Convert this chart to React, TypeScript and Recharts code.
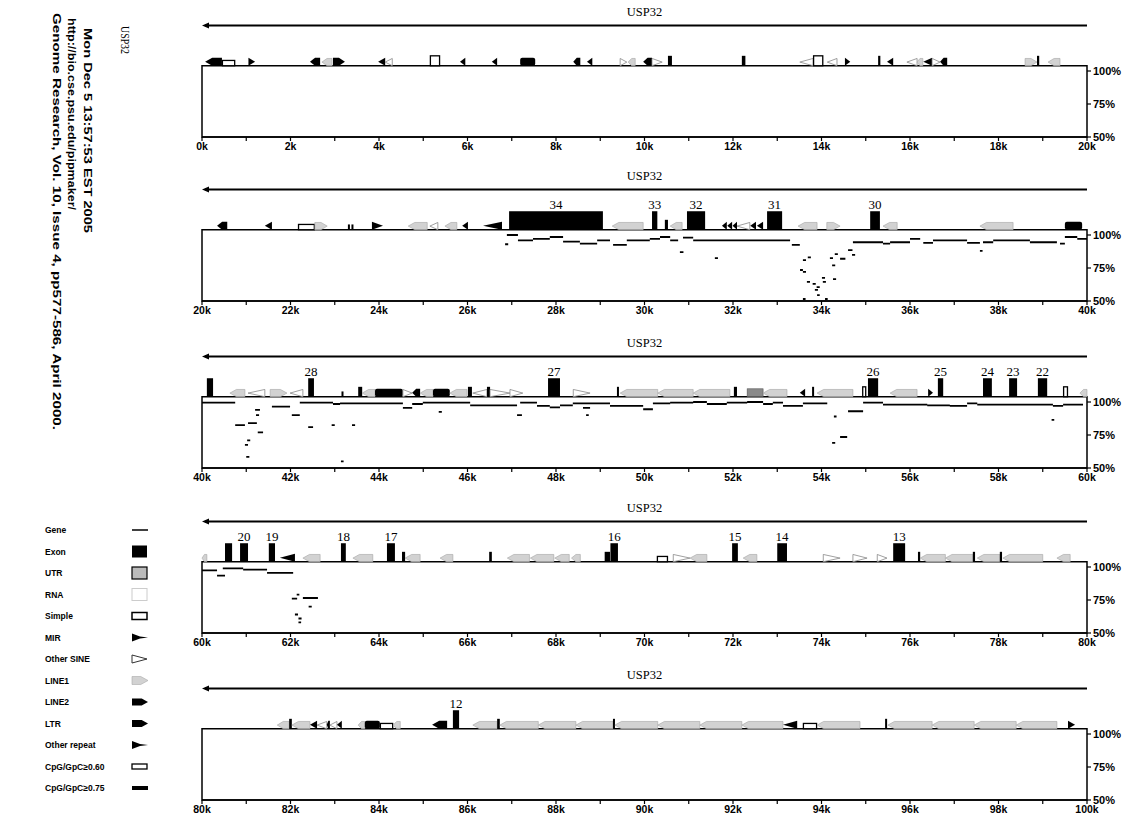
import React from 'react';
import { ComposedChart, XAxis, YAxis, Line, ReferenceArea, ReferenceLine } from 'recharts';

const geneName = 'USP32';
const panelStarts = [0, 20000, 40000, 60000, 80000];
const panelSpan = 20000;
const tickOffsetsKb = [0, 1, 2, 3, 4, 5, 6, 7, 8, 9, 10, 11, 12, 13, 14, 15, 16, 17, 18, 19, 20];
const pctTicks = [50, 75, 100];

// [start, end, kind, strand or exon number]
type Feat = [number, number, string, string];
// [start, end, percent identity]
type Seg = [number, number, number];

const featuresA: Feat[] = [
  [70, 450, 'blk', 'L'], [450, 750, 'simple', ''], [1050, 1200, 'mir', 'R'],
  [2440, 2670, 'blk', 'L'], [2710, 2940, 'line1', 'L'], [2960, 3230, 'blk', 'R'],
  [3980, 4140, 'mir', 'L'], [4140, 4300, 'sine', 'L'], [5150, 5380, 'cpg', ''],
  [5830, 5950, 'mir', 'L'], [6550, 6670, 'mir', 'L'], [7190, 7530, 'ltr', ''],
  [8390, 8550, 'blk', 'L'], [8700, 8820, 'mir', 'L'], [9450, 9600, 'sine', 'R'],
  [9630, 9790, 'line1', 'L'], [9970, 10170, 'blk', 'L'], [10170, 10400, 'sine', 'R'],
  [10530, 10620, 'bar', ''], [12200, 12280, 'bar', ''], [13510, 13810, 'sine', 'L'],
  [13810, 14040, 'cpg', ''], [14130, 14350, 'sine', 'L'], [14530, 14650, 'mir', 'R'],
  [15280, 15330, 'bar', ''], [15480, 15620, 'mir', 'L'], [15930, 16160, 'sine', 'L'],
  [16160, 16290, 'line1', 'L'], [16300, 16500, 'mir', 'L'], [16500, 16680, 'sine', 'R'],
  [16680, 16840, 'blk', 'L'], [18600, 18870, 'line1', 'R'], [18870, 18920, 'bar', ''],
  [19120, 19390, 'line1', 'L'],
];

const featuresB: Feat[] = [
  [20340, 20570, 'line2', 'L'], [21420, 21580, 'mir', 'L'], [22170, 22550, 'simple', ''],
  [22550, 22830, 'line1', 'R'], [23300, 23340, 'tick', ''], [23380, 23420, 'tick', ''],
  [23840, 24090, 'mir', 'R'], [24660, 25090, 'line1', 'L'], [25150, 25330, 'sine', 'L'],
  [25490, 25760, 'line1', 'L'], [25880, 26010, 'mir', 'L'], [26350, 26780, 'mir', 'L'],
  [26940, 29060, 'exon', '34'], [29270, 29970, 'line1', 'L'], [30170, 30290, 'exon', '33'],
  [30460, 30530, 'bar', ''], [30580, 30850, 'line1', 'L'], [30960, 31370, 'exon', '32'],
  [31750, 31860, 'mir', 'L'], [31870, 31980, 'mir', 'L'], [31990, 32090, 'mir', 'L'],
  [32090, 32380, 'sine', 'L'], [32390, 32520, 'mir', 'L'], [32540, 32680, 'mir', 'L'],
  [32770, 33110, 'exon', '31'], [33470, 33900, 'line1', 'L'], [34120, 34420, 'line1', 'R'],
  [35100, 35320, 'exon', '30'], [35390, 35710, 'line1', 'L'], [37580, 38330, 'line1', 'L'],
  [39500, 39890, 'ltr', ''],
];

const featuresC: Feat[] = [
  [40110, 40250, 'exon', ''], [40630, 40970, 'line1', 'L'], [41040, 41420, 'sine', 'L'],
  [41540, 41920, 'line1', 'R'], [41990, 42280, 'sine', 'L'], [42400, 42530, 'exon', '28'],
  [43160, 43190, 'tick', ''], [43530, 43620, 'bar', ''], [43620, 43910, 'line1', 'L'],
  [43910, 44540, 'ltr', ''], [44540, 44750, 'sine', 'R'], [44750, 44930, 'blk', 'L'],
  [44930, 45220, 'line1', 'L'], [45220, 45600, 'ltr', ''], [45600, 45990, 'line1', 'L'],
  [46010, 46100, 'bar', ''], [46120, 46440, 'sine', 'L'], [46440, 46510, 'bar', ''],
  [46510, 46960, 'sine', 'R'], [46960, 47250, 'sine', 'R'], [47820, 48090, 'exon', '27'],
  [48390, 48770, 'sine', 'R'], [49380, 49420, 'bar', ''], [49450, 50300, 'line1', 'L'],
  [50300, 51100, 'line1', 'L'], [51100, 51930, 'line1', 'L'], [52020, 52090, 'bar', ''],
  [52320, 52680, 'utr', ''], [52680, 53220, 'line1', 'L'], [53510, 53630, 'mir', 'L'],
  [53790, 53830, 'bar', ''], [53900, 54710, 'line1', 'L'], [54920, 54990, 'cpg', ''],
  [55050, 55280, 'exon', '26'], [55550, 56160, 'line1', 'L'], [56410, 56520, 'mir', 'R'],
  [56630, 56750, 'exon', '25'], [57650, 57850, 'exon', '24'], [58240, 58420, 'exon', '23'],
  [58890, 59100, 'exon', '22'], [59460, 59570, 'cpg', ''], [59840, 60000, 'line1', 'L'],
];

const featuresD: Feat[] = [
  [60000, 60110, 'line1', 'L'], [60520, 60680, 'exon', ''], [60860, 61040, 'exon', '20'],
  [61510, 61650, 'exon', '19'], [61760, 62100, 'mir', 'L'], [62280, 62670, 'line1', 'L'],
  [63140, 63250, 'exon', '18'], [63410, 63860, 'line1', 'L'], [64180, 64360, 'exon', '17'],
  [64520, 64590, 'bar', ''], [64590, 64930, 'line1', 'L'], [65380, 65670, 'line1', 'L'],
  [66490, 66550, 'bar', ''], [66900, 67400, 'line1', 'L'], [67420, 67950, 'line1', 'L'],
  [67970, 68300, 'line1', 'L'], [68350, 68550, 'line1', 'L'], [69100, 69220, 'bar', ''],
  [69230, 69400, 'exon', '16'], [70280, 70530, 'simple', ''], [70650, 71030, 'sine', 'R'],
  [71030, 71410, 'line1', 'L'], [71980, 72110, 'exon', '15'], [72230, 72540, 'line1', 'L'],
  [73000, 73220, 'exon', '14'], [74040, 74420, 'sine', 'R'], [74710, 75030, 'sine', 'R'],
  [75260, 75480, 'sine', 'R'], [75620, 75890, 'exon', '13'], [76180, 76230, 'bar', ''],
  [76230, 76800, 'line1', 'L'], [76800, 77420, 'line1', 'L'], [77420, 77470, 'bar', ''],
  [77520, 78030, 'line1', 'L'], [78030, 78080, 'bar', ''], [78100, 79000, 'line1', 'L'],
  [79320, 79620, 'line1', 'L'],
];

const featuresE: Feat[] = [
  [81700, 81970, 'line1', 'L'], [81970, 82030, 'bar', ''], [82030, 82440, 'line1', 'L'],
  [82440, 82600, 'mir', 'L'], [82600, 82820, 'sine', 'L'], [82820, 82890, 'blk', 'L'],
  [82890, 83050, 'sine', 'L'], [83050, 83160, 'mir', 'L'], [83530, 83680, 'line1', 'L'],
  [83680, 84020, 'ltr', ''], [84020, 84320, 'simple', ''], [84320, 84480, 'line1', 'L'],
  [85200, 85540, 'line2', 'L'], [85670, 85810, 'exon', '12'], [86120, 86670, 'line1', 'L'],
  [86670, 86730, 'bar', ''], [86730, 87600, 'line1', 'L'], [87600, 88450, 'line1', 'L'],
  [88450, 89290, 'line1', 'L'], [89290, 89330, 'bar', ''], [89330, 90300, 'line1', 'L'],
  [90300, 91250, 'line1', 'L'], [91250, 92200, 'line1', 'L'], [92200, 93130, 'line1', 'L'],
  [93130, 93450, 'mir', 'L'], [93580, 93900, 'simple', ''], [93900, 94870, 'line1', 'L'],
  [95440, 95480, 'bar', ''], [95500, 96500, 'line1', 'L'], [96500, 97450, 'line1', 'L'],
  [97450, 98400, 'line1', 'L'], [98400, 99320, 'line1', 'L'], [99570, 99730, 'mir', 'R'],
];

const pipA: Seg[] = [];

const pipB: Seg[] = [
  [26850, 26920, 93], [26890, 27140, 100], [27140, 27480, 96], [27480, 27860, 97],
  [27860, 28160, 98.5], [28160, 28540, 95], [28540, 28930, 93.5], [28930, 29220, 96],
  [29290, 29600, 92.5], [29600, 30120, 96], [30120, 30350, 97], [30350, 30580, 98.5],
  [30580, 30760, 96], [30800, 30880, 87], [30870, 31100, 98], [31100, 33290, 96],
  [31590, 31660, 82.5], [33330, 33510, 92.5],
  [33580, 33650, 81], [33515, 33580, 73.5], [33580, 33650, 72], [33690, 33760, 83],
  [33670, 33740, 64.5], [33800, 33870, 63], [33890, 33960, 60.5], [33850, 33920, 58.5],
  [34010, 34080, 67.5], [34030, 34100, 64.5], [34190, 34260, 82.5], [34240, 34310, 77],
  [34300, 34370, 85.5], [34420, 34540, 82], [34260, 34330, 66.5], [34600, 34700, 88.5],
  [34690, 34760, 85], [33580, 33640, 51.5], [34080, 34140, 51.5], [33900, 33960, 54.5],
  [34710, 35390, 94.5], [35390, 35550, 93.5], [35550, 36000, 94.5], [36000, 36230, 97],
  [36300, 36520, 94], [36520, 37290, 96], [37290, 37580, 94], [37580, 37640, 88],
  [37650, 37880, 94.5], [37880, 38710, 96], [38710, 39320, 94.5], [39390, 39500, 93.5],
  [39500, 39780, 98.5], [39780, 40000, 97],
];

const pipC: Seg[] = [
  [40000, 40750, 99.5], [40750, 40970, 82.5], [41040, 41240, 84], [41200, 41310, 94],
  [41220, 41290, 90], [41260, 41380, 77], [41020, 41090, 71], [40970, 41040, 67.5],
  [41000, 41070, 58.5], [41580, 41990, 96.5], [42030, 42210, 90], [42400, 42510, 81],
  [42210, 42960, 99.5], [42960, 43120, 98.5], [43120, 44540, 99], [42930, 43000, 82.5],
  [43390, 43460, 82.5], [43140, 43200, 55], [44540, 44750, 95.5], [44750, 44990, 98.5],
  [44990, 46060, 99.5], [45350, 45420, 92.5], [46060, 47120, 97.5], [47120, 47230, 90],
  [47190, 47570, 99.5], [47570, 47860, 97], [47860, 48090, 96], [48090, 48380, 97.5],
  [48610, 48770, 95.5], [48680, 48740, 90], [48380, 49220, 99], [49220, 49970, 97],
  [49970, 50190, 94.5], [50190, 50580, 99], [50580, 51100, 99.5], [51100, 51410, 100],
  [51410, 51860, 98.5], [51860, 52320, 99.5], [52320, 52680, 100], [52680, 52900, 98.5],
  [52900, 53130, 99.5], [53130, 53580, 97], [53580, 54130, 99], [54280, 54340, 89],
  [54600, 54940, 93], [54420, 54580, 73.5], [54240, 54310, 69], [54940, 55390, 99.5],
  [55390, 56390, 98], [56390, 56900, 97.5], [56900, 57290, 97], [57290, 57520, 99],
  [57520, 59230, 98], [59200, 59260, 86.5], [59230, 59460, 97], [59460, 59910, 98],
];

const pipD: Seg[] = [
  [60000, 60340, 97.5], [60340, 60520, 93.5], [60470, 60930, 99], [60930, 61470, 98],
  [61470, 62060, 95.5], [62030, 62150, 76], [62280, 62620, 76.5], [62410, 62480, 70],
  [62180, 62250, 61], [62140, 62200, 79], [62100, 62170, 64], [62180, 62240, 58],
];

const pipE: Seg[] = [];

const panelFeatures = [featuresA, featuresB, featuresC, featuresD, featuresE];
const panelPips = [pipA, pipB, pipC, pipD, pipE];

const legendLabels = [
  'Gene', 'Exon', 'UTR', 'RNA', 'Simple', 'MIR', 'Other SINE', 'LINE1', 'LINE2',
  'LTR', 'Other repeat', 'CpG/GpC\u22650.60', 'CpG/GpC\u22650.75',
];

const sideLines = [
  'Genome Research, Vol. 10, Issue 4, pp577-586, April 2000.',
  'http://bio.cse.psu.edu/pipmaker/',
  'Mon Dec  5 13:57:53 EST 2005',
];

const panelTops = [0, 164, 331, 496, 663];
const BOX_TOP = 104;
const ARROW_Y = 134.5;
const kindHeight: Record<string, number> = {
  exon: 14, bar: 7.5, tick: 4, blk: 6, mir: 6, sine: 5.5, line1: 5.5,
  line2: 6, ltr: 6, simple: 4, cpg: 7.5, utr: 6,
};
const LIGHT = '#d2d2d2';
const sans = '"Liberation Sans", Arial, sans-serif';
const serif = '"Liberation Serif", "Times New Roman", serif';

const arrowPoly = (x: number, y: number, w: number, h: number, dir: string) => {
  const tip = Math.min(w * 0.5, h * 0.9);
  if (dir === 'R') {
    return `${x},${y} ${x + w - tip},${y} ${x + w},${y + h / 2} ${x + w - tip},${y + h} ${x},${y + h}`;
  }
  return `${x + tip},${y} ${x + w},${y} ${x + w},${y + h} ${x + tip},${y + h} ${x},${y + h / 2}`;
};

const triPoly = (x: number, y: number, w: number, h: number, dir: string) =>
  dir === 'R'
    ? `${x},${y} ${x + w},${y + h / 2} ${x},${y + h}`
    : `${x + w},${y} ${x},${y + h / 2} ${x + w},${y + h}`;

const glyph = (kind: string, dir: string) => (p: any) => {
  let { x, y, width: w, height: h } = p;
  if (w < 2) { x -= (2 - w) / 2; w = 2; }
  switch (kind) {
    case 'exon':
    case 'bar':
    case 'tick':
      return <rect x={x} y={y} width={w} height={h} fill="#000" />;
    case 'utr':
      return <rect x={x} y={y} width={w} height={h} fill="#8a8a8a" stroke="#555" strokeWidth={0.6} />;
    case 'simple':
      return <rect x={x + 0.5} y={y} width={w - 1} height={h} fill="#fff" stroke="#000" strokeWidth={1.3} />;
    case 'cpg':
      return <rect x={x + 0.5} y={y} width={Math.max(w - 1, 3)} height={h} fill="#fff" stroke="#000" strokeWidth={1.3} />;
    case 'mir':
      return <polygon points={triPoly(x, y, w, h, dir)} fill="#000" />;
    case 'sine':
      return <polygon points={triPoly(x, y, w, h, dir)} fill="#fff" stroke="#888" strokeWidth={0.8} />;
    case 'line1':
      return <polygon points={arrowPoly(x, y, w, h, dir)} fill={LIGHT} stroke="#a5a5a5" strokeWidth={0.6} />;
    case 'line2':
    case 'blk':
      return <polygon points={arrowPoly(x, y, w, h, dir)} fill="#000" />;
    case 'ltr':
      return <rect x={x} y={y} width={w} height={h} rx={2} fill="#000" />;
    default:
      return <rect x={x} y={y} width={w} height={h} fill="#000" />;
  }
};

const geneArrow = (p: any) => {
  const xl = Math.min(p.x1, p.x2);
  const xr = Math.max(p.x1, p.x2);
  const y = p.y1;
  return (
    <g>
      <line x1={xl + 3} y1={y} x2={xr} y2={y} stroke="#000" strokeWidth={2} />
      <polygon points={`${xl},${y} ${xl + 7},${y - 3} ${xl + 7},${y + 3}`} fill="#000" />
    </g>
  );
};

const pipLine = (segs: Seg[]) =>
  segs.flatMap(([s, e, v]) => [{ x: s, y: v }, { x: e, y: v }, { x: e, y: null }]);

function Panel({ index }: { index: number }) {
  const start = panelStarts[index];
  const end = start + panelSpan;
  const ticks = tickOffsetsKb.map((k) => start + k * 1000);
  const feats = panelFeatures[index];
  const pip = pipLine(panelPips[index]);
  return (
    <ComposedChart width={1135} height={166} margin={{ top: 5, right: 3, bottom: 4, left: 202 }}>
      <XAxis
        type="number"
        dataKey="x"
        domain={[start, end]}
        ticks={ticks}
        interval={0}
        allowDataOverflow
        height={25}
        tickSize={4}
        tickFormatter={(v: number) => (Math.round(v / 1000) % 2 === 0 ? `${Math.round(v / 1000)}k` : '')}
        axisLine={{ stroke: '#000', strokeWidth: 1.5 }}
        tickLine={{ stroke: '#000', strokeWidth: 1.2 }}
        tick={{ fill: '#000', fontSize: 10.5, fontWeight: 700, fontFamily: sans }}
      />
      <YAxis
        orientation="right"
        type="number"
        domain={[50, 150]}
        ticks={pctTicks}
        interval={0}
        allowDataOverflow
        width={45}
        tickSize={4}
        axisLine={false}
        tickFormatter={(v: number) => `${v}%`}
        tickLine={{ stroke: '#000', strokeWidth: 1.2 }}
        tick={{ fill: '#000', fontSize: 11, fontWeight: 700, fontFamily: sans }}
      />
      <ReferenceArea x1={start} x2={end} y1={50} y2={BOX_TOP} fill="none" stroke="#000" strokeWidth={1.5} />
      <ReferenceLine
        segment={[{ x: end, y: ARROW_Y }, { x: start, y: ARROW_Y }]}
        shape={geneArrow}
        label={{ value: geneName, position: 'top', offset: 9, fill: '#000', fontSize: 12.5, fontFamily: serif }}
      />
      {feats.map(([s, e, kind, extra], i) => (
        <ReferenceArea
          key={i}
          x1={s}
          x2={e}
          y1={BOX_TOP}
          y2={BOX_TOP + (kindHeight[kind] ?? 6)}
          shape={glyph(kind, extra)}
          label={kind === 'exon' && extra
            ? { value: extra, position: 'top', offset: 2, fill: '#000', fontSize: 13, fontFamily: serif }
            : undefined}
        />
      ))}
      {pip.length > 0 && (
        <Line
          data={pip}
          dataKey="y"
          type="linear"
          stroke="#000"
          strokeWidth={1.8}
          dot={false}
          connectNulls={false}
          isAnimationActive={false}
        />
      )}
    </ComposedChart>
  );
}

function legendIcon(i: number, y: number) {
  const x = 132;
  switch (i) {
    case 0:
      return <line x1={x} y1={y} x2={x + 16} y2={y} stroke="#000" strokeWidth={1.5} />;
    case 1:
      return <rect x={x} y={y - 6} width={15} height={12} fill="#000" />;
    case 2:
      return <rect x={x} y={y - 6} width={15} height={12} fill="#bbb" stroke="#000" strokeWidth={1.2} />;
    case 3:
      return <rect x={x} y={y - 6} width={15} height={12} fill="#fff" stroke="#ccc" strokeWidth={1} />;
    case 4:
      return <rect x={x} y={y - 3.5} width={15} height={7} fill="#fff" stroke="#000" strokeWidth={1.5} />;
    case 5:
    case 10:
      return <polygon points={`${x},${y - 4} ${x + 8},${y - 1} ${x + 16},${y} ${x + 8},${y + 1} ${x},${y + 4}`} fill="#000" />;
    case 6:
      return <polygon points={`${x},${y - 4} ${x + 15},${y} ${x},${y + 4}`} fill="#fff" stroke="#333" strokeWidth={1} />;
    case 7:
      return <polygon points={arrowPoly(x, y - 4, 16, 8, 'R')} fill={LIGHT} stroke="#aaa" strokeWidth={0.6} />;
    case 8:
    case 9:
      return <polygon points={arrowPoly(x, y - 3.5, 16, 7, 'R')} fill="#000" />;
    case 11:
      return <rect x={x} y={y - 2.5} width={15} height={5} fill="#fff" stroke="#000" strokeWidth={1.3} />;
    default:
      return <rect x={x} y={y - 2} width={16} height={4} fill="#000" />;
  }
}

function SidePanel() {
  const cols = [53, 68, 84];
  const starts = [13, 18, 28];
  const lens = [417, 192, 205];
  return (
    <svg width={190} height={830} style={{ position: 'absolute', left: 0, top: 0 }}>
      {sideLines.map((t, i) => (
        <text
          key={t}
          transform={`translate(${cols[i]},${starts[i]}) rotate(90)`}
          fontFamily={sans}
          fontWeight={700}
          fontSize={10.5}
          textLength={lens[i]}
          lengthAdjust="spacingAndGlyphs"
          fill="#000"
        >
          {t}
        </text>
      ))}
      <text
        transform="translate(121,26) rotate(90)"
        fontFamily={serif}
        fontSize={12.5}
        textLength={28}
        lengthAdjust="spacingAndGlyphs"
        fill="#000"
      >
        {geneName}
      </text>
      {legendLabels.map((t, i) => {
        const y = 530 + i * 21.5;
        return (
          <g key={t}>
            <text x={45} y={y + 3} fontFamily={sans} fontWeight={700} fontSize={8.5} fill="#000">{t}</text>
            {legendIcon(i, y)}
          </g>
        );
      })}
    </svg>
  );
}

export default function App() {
  return (
    <div style={{ position: 'absolute', left: 0, top: 0, width: 1135, height: 830, background: '#fff' }}>
      {panelStarts.map((s, i) => (
        <div key={s} style={{ position: 'absolute', left: 0, top: panelTops[i] }}>
          <Panel index={i} />
        </div>
      ))}
      <SidePanel />
    </div>
  );
}
